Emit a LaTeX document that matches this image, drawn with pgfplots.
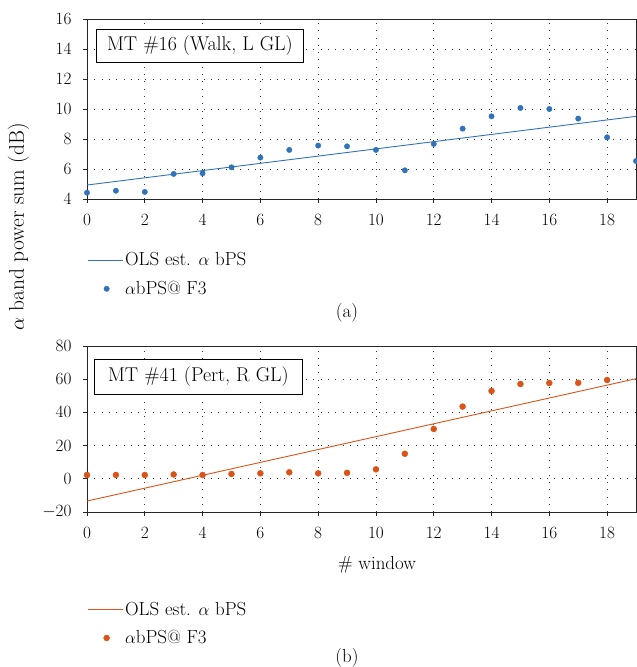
\documentclass[border=0pt]{standalone}
\usepackage{pgfplots}
\pgfplotsset{compat=1.18}
\definecolor{ablue}{RGB}{49,115,186}
\definecolor{aorange}{RGB}{218,83,25}

\pgfplotstableread{
w   v
0   4.42
1   4.55
2   4.47
3   5.67
4   5.71
5   6.11
6   6.76
7   7.27
8   7.56
9   7.51
10  7.27
11  5.91
12  7.67
13  8.69
14  9.51
15  10.07
16  10.00
17  9.36
18  8.11
19  6.53
}\walkdata

\pgfplotstableread{
w   v
0   2.3
1   2.3
2   2.3
3   2.6
4   2.3
5   2.9
6   3.3
7   3.9
8   3.3
9   3.6
10  5.7
11  15.1
12  30.0
13  43.5
14  52.9
15  57.1
16  57.7
17  57.8
18  59.5
}\pertdata

\pgfplotsset{
  panel/.style={
    scale only axis,
    width=549bp,
    xmin=0, xmax=19,
    xtick={0,2,...,18},
    axis line style={line width=0.9bp, black!85},
    tick align=outside,
    xtick pos=bottom, ytick pos=left,
    major tick length=4bp,
    tick style={line width=0.9bp, black!85},
    grid=major,
    grid style={black!80, line width=0.7bp, dash pattern=on 0.8bp off 6.5bp},
    tick label style={font=\fontsize{19}{22}\selectfont},
    xticklabel style={yshift=-5bp},
    yticklabel style={xshift=-5bp},
    legend cell align=left,
    legend style={draw=none, fill=none, anchor=north west, inner sep=0pt,
      font=\fontsize{19}{22}\selectfont, row sep=8bp,
      nodes={inner sep=2bp},
      /tikz/every even column/.append style={column sep=4bp}},
  },
  olsline/.style={legend image code/.code={\draw[##1] (0bp,0bp) -- (35bp,0bp);}},
  dotleg/.style={legend image code/.code={\draw[##1] plot coordinates {(19bp,0bp)};}},
}

\begin{document}
\fontsize{19}{22}\selectfont
\begin{tikzpicture}[x=1bp,y=1bp]
\useasboundingbox (0,0) rectangle (637,667);

\begin{axis}[panel,
  at={(87bp,468bp)}, anchor=south west,
  height=180bp,
  ymin=4, ymax=16, ytick={4,6,...,16},
  legend style={at={(0,-0.286)}},
]
\addplot[ablue, line width=0.9bp, olsline] coordinates {(0,4.93) (19,9.51)};
\addlegendentry{OLS est. $\alpha$ bPS}
\addplot[only marks, mark=*, mark size=2.7bp, color=ablue, dotleg] table[x=w, y=v] {\walkdata};
\addlegendentry{$\alpha$bPS@ F3}
\node[draw=black, fill=white, line width=0.9bp, anchor=north west,
  minimum width=207bp, minimum height=33bp, inner sep=0pt,
  font=\fontsize{20}{24}\selectfont]
  at (axis cs:0.31,15.33) {MT \#16 (Walk, L GL)};
\end{axis}

\begin{axis}[panel,
  at={(87bp,155bp)}, anchor=south west,
  height=166bp,
  ymin=-20, ymax=80, ytick={-20,0,...,80},
  legend style={at={(0,-0.528)}},
]
\addplot[aorange, line width=0.9bp, olsline] coordinates {(0,-13.4) (19,60.3)};
\addlegendentry{OLS est. $\alpha$ bPS}
\addplot[only marks, mark=*, mark size=3bp, color=aorange, dotleg] table[x=w, y=v] {\pertdata};
\addlegendentry{$\alpha$bPS@ F3}
\node[draw=black, fill=white, line width=0.9bp, anchor=north west,
  minimum width=208bp, minimum height=35bp, inner sep=0pt,
  font=\fontsize{20}{24}\selectfont]
  at (axis cs:0.24,72.2) {MT \#41 (Pert, R GL)};
\end{axis}

\node at (347,354) {(a)};
\node at (347,9) {(b)};
\node at (377,102) {\# window};
\node[rotate=90, font=\fontsize{21.5}{25}\selectfont] at (18.5,440) {$\alpha$ band power sum (dB)};
\end{tikzpicture}
\end{document}
